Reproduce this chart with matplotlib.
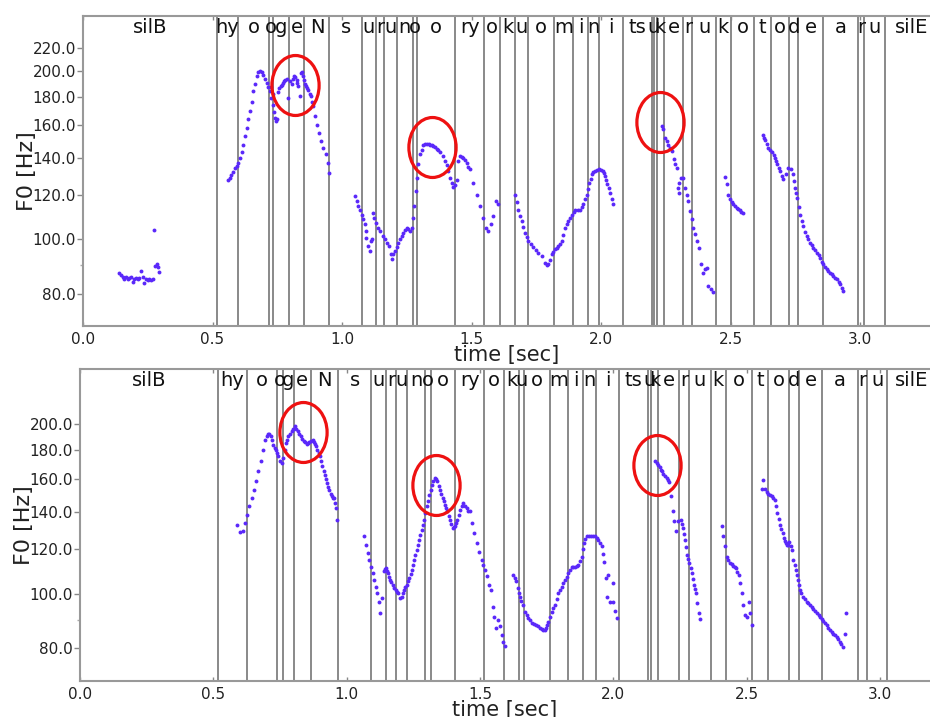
import numpy as np
import matplotlib
matplotlib.use('Agg')
import matplotlib.pyplot as plt
from matplotlib.markers import MarkerStyle
from matplotlib.transforms import Affine2D, blended_transform_factory
from matplotlib.ticker import FixedLocator, FormatStrFormatter, NullFormatter

# ---- upper panel: F0 track (time in s, F0 in Hz) ----
top_t = [
    0.139, 0.145, 0.153, 0.160, 0.166, 0.172, 0.179, 0.185, 0.192, 0.198, 0.205, 0.211, 0.217,
    0.225, 0.230, 0.237, 0.243, 0.250, 0.256, 0.263, 0.269, 0.274, 0.278, 0.285, 0.290, 0.295,
    0.559, 0.566, 0.573, 0.580, 0.587, 0.594, 0.600, 0.606, 0.612, 0.619, 0.625, 0.632, 0.638,
    0.645, 0.651, 0.658, 0.664, 0.671, 0.677, 0.683, 0.690, 0.696, 0.702, 0.709, 0.715, 0.722,
    0.727, 0.732, 0.737, 0.741, 0.745, 0.748, 0.725, 0.733, 0.752, 0.758, 0.763, 0.767, 0.772,
    0.776, 0.781, 0.786, 0.793, 0.799, 0.806, 0.812, 0.815, 0.820, 0.825, 0.828, 0.831, 0.838,
    0.841, 0.846, 0.850, 0.853, 0.857, 0.861, 0.866, 0.870, 0.875, 0.879, 0.884, 0.889, 0.896,
    0.903, 0.910, 0.918, 0.927, 0.938, 0.947, 0.951,
    1.050, 1.057, 1.063, 1.069, 1.076, 1.082, 1.089, 1.093, 1.094, 1.101, 1.108, 1.111, 1.115,
    1.121, 1.124, 1.131, 1.140, 1.147, 1.157, 1.166, 1.175, 1.183, 1.188, 1.192, 1.198, 1.205,
    1.211, 1.217, 1.224, 1.230, 1.237, 1.243, 1.250, 1.256, 1.263, 1.269, 1.275, 1.279, 1.286,
    1.291, 1.295, 1.301, 1.308, 1.314, 1.320, 1.327, 1.334, 1.340, 1.347, 1.353, 1.360, 1.366,
    1.372, 1.378, 1.389, 1.398, 1.404, 1.411, 1.417, 1.424, 1.430, 1.436, 1.443, 1.449, 1.456,
    1.462, 1.468, 1.475, 1.481, 1.488, 1.494, 1.507, 1.520, 1.533, 1.546, 1.556, 1.565, 1.574,
    1.584, 1.595, 1.604,
    1.668, 1.674, 1.681, 1.688, 1.694, 1.700, 1.707, 1.713, 1.719, 1.729, 1.739, 1.748, 1.758,
    1.771, 1.784, 1.791, 1.797, 1.803, 1.810, 1.816, 1.822, 1.829, 1.835, 1.842, 1.848, 1.855,
    1.861, 1.868, 1.874, 1.881, 1.887, 1.894, 1.900, 1.910, 1.919, 1.926, 1.932, 1.939, 1.945,
    1.950, 1.955, 1.960, 1.964, 1.970, 1.977, 1.985, 1.994, 2.000, 2.006, 2.010, 2.015, 2.020,
    2.024, 2.030, 2.035, 2.041, 2.048,
    2.234, 2.241, 2.247, 2.254, 2.260, 2.267, 2.273, 2.282, 2.287, 2.292, 2.298, 2.302, 2.302,
    2.308, 2.318, 2.324, 2.331, 2.337, 2.344, 2.350, 2.356, 2.363, 2.369, 2.380, 2.385, 2.395,
    2.402, 2.408, 2.414, 2.424, 2.434,
    2.479, 2.485, 2.492, 2.498, 2.504, 2.511, 2.517, 2.524, 2.530, 2.537, 2.542, 2.547,
    2.624, 2.628, 2.633, 2.640, 2.646, 2.652, 2.659, 2.666, 2.672, 2.677, 2.681, 2.686, 2.691,
    2.698, 2.704, 2.714, 2.723, 2.732, 2.740, 2.745, 2.749, 2.754, 2.758, 2.763, 2.768, 2.775,
    2.781, 2.788, 2.794, 2.800, 2.807, 2.813, 2.820, 2.827, 2.833, 2.840, 2.846, 2.852, 2.858,
    2.865, 2.871, 2.878, 2.884, 2.891, 2.897, 2.904, 2.910, 2.917, 2.923, 2.930, 2.936,
]
top_f0 = [
    86.9, 86.2, 85.8, 85.0, 85.8, 84.8, 85.3, 85.8, 83.9, 85.0, 85.4, 84.8, 85.3,
    87.7, 85.8, 83.7, 85.0, 84.5, 85.0, 84.6, 85.0, 103.8, 89.6, 90.5, 89.4, 87.4,
    127.5, 129.0, 130.5, 132.0, 134.0, 135.5, 137.1, 140.0, 143.5, 147.8, 153.0, 158.3, 164.0,
    169.6, 176.0, 184.1, 190.0, 195.8, 199.0, 200.4, 199.0, 197.2, 194.0, 190.6, 187.0, 184.1,
    179.0, 174.3, 169.0, 165.0, 163.2, 164.0, 187.5, 182.0, 183.5, 186.7, 188.0, 189.2, 190.5,
    191.8, 193.0, 194.0, 179.2, 192.0, 189.8, 194.0, 195.8, 195.0, 193.2, 190.5, 187.9, 180.3,
    198.6, 199.5, 196.0, 193.2, 190.0, 187.9, 186.5, 185.4, 182.0, 180.3, 176.0, 173.1, 166.1,
    160.5, 155.1, 149.9, 145.8, 141.9, 137.1, 131.2,
    119.5, 117.1, 114.7, 112.7, 110.8, 108.6, 106.4, 103.5, 100.7, 97.3, 95.3, 99.3, 100.0,
    111.6, 109.3, 107.1, 104.9, 103.5, 101.4, 100.0, 98.6, 97.3, 94.0, 92.1, 94.0, 95.3,
    96.9, 98.6, 100.0, 101.4, 102.8, 103.8, 104.6, 104.2, 103.5, 104.9, 109.3, 114.7, 122.0,
    128.9, 136.2, 141.9, 144.8, 147.4, 148.0, 148.2, 148.0, 147.8, 147.3, 146.8, 146.2, 145.4,
    144.5, 143.5, 140.9, 138.0, 135.8, 132.5, 128.9, 126.3, 124.0, 125.0, 127.5, 138.4, 140.9,
    140.5, 140.0, 138.5, 137.1, 135.0, 133.4, 126.3, 120.3, 114.7, 109.3, 104.9, 103.5, 106.4,
    110.1, 117.1, 115.5,
    120.0, 116.5, 113.1, 110.3, 107.8, 105.2, 102.8, 101.0, 99.3, 98.0, 96.9, 95.8, 94.7,
    93.4, 90.8, 90.0, 90.2, 92.0, 94.0, 95.0, 96.0, 96.6, 97.3, 98.3, 99.3, 102.0,
    104.9, 106.4, 107.8, 109.3, 110.8, 112.0, 113.1, 113.1, 113.1, 114.2, 115.5, 118.0, 120.3,
    123.3, 126.3, 128.5, 130.7, 131.8, 132.8, 133.2, 133.4, 133.0, 132.5, 131.3, 129.8, 127.6,
    125.4, 123.4, 121.2, 118.3, 115.5,
    159.4, 157.3, 152.0, 150.0, 147.8, 145.8, 143.8, 139.0, 136.5, 134.3, 123.7, 126.3, 121.2,
    128.9, 128.9, 123.7, 120.3, 117.1, 112.4, 108.6, 104.9, 102.1, 99.3, 96.6, 90.2, 87.2,
    88.4, 89.0, 82.5, 81.4, 80.6,
    129.2, 125.4, 120.3, 117.9, 116.5, 115.5, 114.7, 113.9, 113.2, 112.7, 112.0, 111.6,
    154.0, 152.0, 150.3, 148.0, 145.8, 144.7, 143.5, 141.5, 140.0, 138.0, 136.2, 134.3, 132.5,
    130.0, 128.0, 130.7, 134.3, 133.4, 130.7, 127.0, 123.7, 121.0, 118.7, 114.5, 110.8, 108.0,
    105.6, 103.3, 101.4, 100.0, 98.6, 97.6, 96.6, 95.6, 94.7, 93.6, 92.5, 91.3, 90.2,
    89.2, 88.4, 87.8, 87.2, 86.6, 86.0, 85.4, 84.8, 84.0, 83.1, 82.0, 80.8,
]

top_bounds = [0.516, 0.600, 0.719, 0.735, 0.794, 0.855, 0.951, 1.076, 1.130, 1.163, 1.211,
              1.273, 1.291, 1.436, 1.549, 1.610, 1.668, 1.719, 1.820, 1.893, 1.948, 1.993,
              2.084, 2.196, 2.206, 2.215, 2.243, 2.318, 2.353, 2.443, 2.501, 2.592, 2.657,
              2.727, 2.762, 2.858, 2.991, 3.016, 3.097]
top_labels = ['silB', 'hy', 'o', 'o', 'g', 'e', 'N', 's', 'u', 'r', 'u', 'n', 'o', 'o',
              'ry', 'o', 'k', 'u', 'o', 'm', 'i', 'n', 'i', 'ts', 'u', '', 'k', 'e', 'r',
              'u', 'k', 'o', 't', 'o', 'd', 'e', 'a', 'r', 'u', 'silE']
top_end = 3.30
top_circle_t = [0.820, 1.349, 2.229]
top_circle_f0 = [189.2, 146.5, 162.2]
top_yticks = [80, 100, 120, 140, 160, 180, 200, 220]

# ---- lower panel ----
bot_t = [
    0.590, 0.600, 0.610, 0.619, 0.627, 0.635, 0.644, 0.652, 0.660, 0.669, 0.677, 0.685, 0.694,
    0.700, 0.706, 0.710, 0.715, 0.720, 0.725, 0.730, 0.735, 0.740, 0.744, 0.750, 0.756, 0.762,
    0.767, 0.772, 0.777, 0.781, 0.788, 0.794, 0.800, 0.806, 0.811, 0.816, 0.822, 0.827, 0.834,
    0.840, 0.845, 0.850, 0.855, 0.860, 0.866, 0.872, 0.876, 0.881, 0.885, 0.890, 0.895, 0.900,
    0.905, 0.909, 0.913, 0.917, 0.921, 0.925, 0.930, 0.935, 0.940, 0.944, 0.948, 0.952, 0.956,
    0.960, 0.962,
    1.065, 1.072, 1.079, 1.085, 1.091, 1.098, 1.102, 1.110, 1.115, 1.122, 1.125, 1.131,
    1.140, 1.144, 1.147, 1.150, 1.154, 1.158, 1.162, 1.167, 1.172, 1.178, 1.185, 1.190, 1.194,
    1.200, 1.206, 1.210, 1.215, 1.220, 1.225, 1.230, 1.235, 1.240, 1.244, 1.248, 1.252, 1.257,
    1.262, 1.267, 1.272, 1.276, 1.281, 1.286, 1.290, 1.295, 1.300, 1.305, 1.310, 1.315, 1.319,
    1.325, 1.331, 1.335, 1.340, 1.345, 1.350, 1.355, 1.360, 1.365, 1.369, 1.373, 1.377, 1.382,
    1.387, 1.392, 1.397, 1.402, 1.406, 1.410, 1.415, 1.420, 1.425, 1.431, 1.437, 1.444, 1.450,
    1.456, 1.462, 1.469, 1.477, 1.487, 1.497, 1.506, 1.512, 1.519, 1.527, 1.535, 1.540, 1.547,
    1.552, 1.560, 1.569, 1.575, 1.581, 1.587, 1.594,
    1.625, 1.630, 1.634, 1.641, 1.645, 1.650, 1.655, 1.660, 1.669, 1.675, 1.681, 1.688, 1.694,
    1.702, 1.710, 1.718, 1.725, 1.731, 1.737, 1.742, 1.747, 1.752, 1.756, 1.763, 1.769, 1.775,
    1.781, 1.788, 1.794, 1.800, 1.806, 1.812, 1.819, 1.825, 1.831, 1.838, 1.844, 1.850, 1.856,
    1.862, 1.869, 1.875, 1.881, 1.886, 1.890, 1.895, 1.900, 1.908, 1.915, 1.923, 1.931, 1.937,
    1.943, 1.950, 1.956, 1.960, 1.965, 1.972, 1.977, 1.981, 1.987, 1.997, 2.000, 2.006, 2.012,
    2.156, 2.162, 2.169, 2.173, 2.177, 2.182, 2.187, 2.193, 2.200, 2.205, 2.210, 2.217, 2.222,
    2.227, 2.235, 2.243, 2.252, 2.256, 2.260, 2.264, 2.268, 2.273, 2.277, 2.281, 2.285, 2.290,
    2.294, 2.298, 2.302, 2.306, 2.310, 2.315, 2.320, 2.325,
    2.406, 2.412, 2.418, 2.425, 2.431, 2.437, 2.444, 2.450, 2.455, 2.460, 2.465, 2.469, 2.475,
    2.481, 2.487, 2.493, 2.502, 2.507, 2.512, 2.519,
    2.557, 2.562, 2.568, 2.574, 2.581, 2.587, 2.594, 2.600, 2.606, 2.611, 2.615, 2.620, 2.625,
    2.630, 2.635, 2.640, 2.643, 2.648, 2.652, 2.656, 2.660, 2.665, 2.669, 2.675, 2.680, 2.684,
    2.688, 2.691, 2.696, 2.700, 2.705, 2.710, 2.718, 2.725, 2.731, 2.737, 2.744, 2.750, 2.756,
    2.762, 2.769, 2.775, 2.781, 2.787, 2.793, 2.800, 2.806, 2.812, 2.818, 2.825, 2.831, 2.837,
    2.843, 2.850, 2.855, 2.860, 2.868, 2.872,
]
bot_f0 = [
    132.7, 128.6, 129.6, 133.6, 138.2, 143.0, 148.0, 153.1, 158.5, 165.1, 171.9, 180.4, 187.9,
    191.0, 192.7, 192.0, 190.6, 187.5, 184.2, 182.0, 180.4, 178.0, 175.6, 171.9, 170.8, 174.4,
    180.0, 185.4, 188.0, 190.6, 192.5, 194.5, 196.5, 198.5, 196.5, 194.5, 192.5, 190.6, 188.5,
    186.7, 185.9, 185.0, 185.5, 185.9, 187.0, 187.4, 186.0, 185.0, 183.0, 180.4, 178.0, 175.6,
    172.0, 168.5, 165.5, 162.9, 160.0, 157.4, 155.0, 152.7, 150.5, 149.0, 148.0, 148.0, 145.0,
    142.1, 135.4,
    126.5, 122.2, 118.1, 115.0, 111.8, 108.8, 105.9, 103.0, 100.3, 96.9, 92.4, 98.2,
    109.6, 110.5, 111.1, 110.0, 108.8, 107.3, 105.9, 104.8, 103.8, 102.6, 101.6, 100.9, 100.3,
    98.2, 98.9, 100.3, 101.6, 102.7, 103.8, 105.2, 106.6, 108.5, 110.3, 112.6, 115.0, 117.3,
    119.7, 122.2, 124.8, 127.4, 130.0, 132.7, 135.4, 139.2, 143.0, 146.5, 150.0, 153.0, 156.3,
    158.8, 160.7, 160.0, 158.5, 155.8, 153.1, 150.5, 148.0, 146.0, 144.0, 142.0, 140.1, 137.6,
    135.4, 133.0, 130.9, 131.5, 131.8, 133.5, 135.4, 138.3, 141.1, 143.0, 145.0, 143.5, 142.1,
    140.2, 140.1, 133.6, 128.2, 123.1, 118.9, 115.0, 112.6, 110.3, 107.4, 103.8, 101.6, 94.9,
    91.1, 86.9, 89.9, 87.5, 84.5, 82.2, 80.8,
    108.1, 106.5, 105.2, 102.3, 100.5, 98.9, 97.2, 95.6, 93.0, 91.7, 90.5, 89.7, 88.9,
    88.5, 88.1, 87.6, 87.1, 86.6, 86.1, 86.3, 86.9, 88.0, 89.3, 91.0, 93.0, 94.3,
    95.6, 98.0, 100.3, 101.6, 103.0, 104.5, 105.9, 107.3, 108.8, 110.3, 111.8, 111.8, 111.8,
    112.2, 112.6, 114.5, 116.5, 120.0, 123.1, 125.0, 126.5, 126.8, 126.8, 126.7, 126.5, 125.8,
    124.8, 123.0, 121.4, 117.5, 113.7, 106.6, 98.9, 108.1, 96.9, 104.5, 96.9, 93.4, 90.5,
    171.9, 171.0, 169.7, 168.0, 166.2, 165.0, 163.5, 162.0, 160.7, 159.3, 157.8, 149.0, 140.1,
    134.5, 129.1, 134.5, 135.4, 133.0, 130.9, 128.0, 124.8, 121.0, 117.3, 115.5, 113.4, 111.0,
    108.8, 106.3, 103.8, 102.0, 100.3, 96.3, 92.4, 90.1,
    132.1, 126.8, 121.4, 116.5, 114.8, 113.4, 112.8, 112.2, 111.7, 111.1, 109.5, 108.1, 104.5,
    100.3, 95.6, 91.8, 91.1, 96.9, 92.4, 88.1,
    153.6, 159.5, 153.6, 152.0, 150.7, 149.8, 149.0, 148.0, 147.0, 143.0, 139.2, 135.8, 132.7,
    130.4, 128.2, 125.8, 123.9, 123.0, 122.2, 122.0, 123.4, 121.5, 119.7, 115.0, 112.5, 110.3,
    108.0, 105.9, 103.5, 101.6, 100.2, 98.9, 97.9, 96.9, 96.2, 95.6, 94.7, 93.8, 93.4,
    92.6, 91.8, 91.1, 90.3, 89.5, 88.7, 87.9, 87.0, 86.2, 85.4, 84.9, 84.5, 83.7,
    83.0, 82.2, 81.4, 80.6, 84.9, 92.4,
]

bot_bounds = [0.519, 0.625, 0.739, 0.761, 0.802, 0.865, 0.969, 1.090, 1.147, 1.184, 1.227,
              1.295, 1.315, 1.407, 1.516, 1.591, 1.646, 1.666, 1.762, 1.829, 1.887, 1.935,
              2.021, 2.129, 2.141, 2.169, 2.246, 2.284, 2.365, 2.421, 2.521, 2.581, 2.659,
              2.696, 2.781, 2.916, 2.952, 3.027]
bot_labels = ['silB', 'hy', 'o', 'o', 'g', 'e', 'N', 's', 'u', 'r', 'u', 'n', 'o', 'o',
              'ry', 'o', 'k', 'u', 'o', 'm', 'i', 'n', 'i', 'ts', 'u', 'k', 'e', 'r',
              'u', 'k', 'o', 't', 'o', 'd', 'e', 'a', 'r', 'u', 'silE']
bot_end = 3.21
bot_circle_t = [0.835, 1.333, 2.164]
bot_circle_f0 = [193.8, 156.3, 169.5]
bot_yticks = [80, 100, 120, 140, 160, 180, 200]

dot_color = '#5a28fa'
line_color = '#808080'
txt_color = '#222222'

plt.rcParams['font.family'] = ['DejaVu Sans']

fig = plt.figure(figsize=(9.3, 7.17), dpi=100)
ax1 = fig.add_axes([83 / 930, 1 - 326 / 717, 1 - 83 / 930, 310 / 717])
ax2 = fig.add_axes([80 / 930, 1 - 681 / 717, 1 - 80 / 930, 312 / 717])

ellipse = MarkerStyle('o', fillstyle='none', transform=Affine2D().scale(1.0, 1.27))


def draw_panel(ax, t, f0, bounds, labels, t_end, xmax, yticks, circ_t, circ_f0):
    ax.set_yscale('log')
    ax.set_xlim(0, xmax)
    ax.set_ylim(70, 251)

    for b in bounds:
        ax.axvline(b, color=line_color, lw=1.3, zorder=1)

    ax.plot(t, f0, linestyle='none', marker='o', ms=2.8, color=dot_color,
            mec='none', zorder=3)

    edges = [0.0] + list(bounds) + [t_end]
    tr = blended_transform_factory(ax.transData, ax.transAxes)
    for i, lab in enumerate(labels):
        ax.text((edges[i] + edges[i + 1]) / 2, 0.993, lab, transform=tr,
                ha='center', va='top', fontsize=14, color='#111111', clip_on=False)

    ax.plot(circ_t, circ_f0, linestyle='none', marker=ellipse, ms=34,
            mec='#ee1111', mew=2.3, zorder=4)

    ax.yaxis.set_major_locator(FixedLocator(yticks))
    ax.yaxis.set_minor_locator(FixedLocator([90]))
    ax.yaxis.set_major_formatter(FormatStrFormatter('%.1f'))
    ax.yaxis.set_minor_formatter(NullFormatter())
    ax.set_xticks(np.arange(0, 3.01, 0.5))
    ax.xaxis.set_major_formatter(FormatStrFormatter('%.1f'))

    ax.tick_params(axis='y', which='major', direction='out', length=4, width=1,
                   color='#888888', labelsize=11, labelcolor=txt_color, pad=1)
    ax.tick_params(axis='y', which='minor', direction='out', length=2, width=1,
                   color='#aaaaaa')
    ax.tick_params(axis='x', direction='in', length=3, width=1, top=True,
                   color='#888888', labelsize=11, labelcolor=txt_color, pad=4)

    for side in ['left', 'bottom', 'top']:
        ax.spines[side].set_color('#999999')
        ax.spines[side].set_linewidth(1.5)
    ax.spines['right'].set_visible(False)

    ax.set_ylabel('F0 [Hz]', fontsize=16, color=txt_color, labelpad=-3)
    ax.set_xlabel('time [sec]', fontsize=15, color=txt_color, labelpad=-1)


draw_panel(ax1, top_t, top_f0, top_bounds, top_labels, top_end, 3.27,
           top_yticks, top_circle_t, top_circle_f0)
draw_panel(ax2, bot_t, bot_f0, bot_bounds, bot_labels, bot_end, 3.187,
           bot_yticks, bot_circle_t, bot_circle_f0)

fig.savefig('out.png', dpi=100)
